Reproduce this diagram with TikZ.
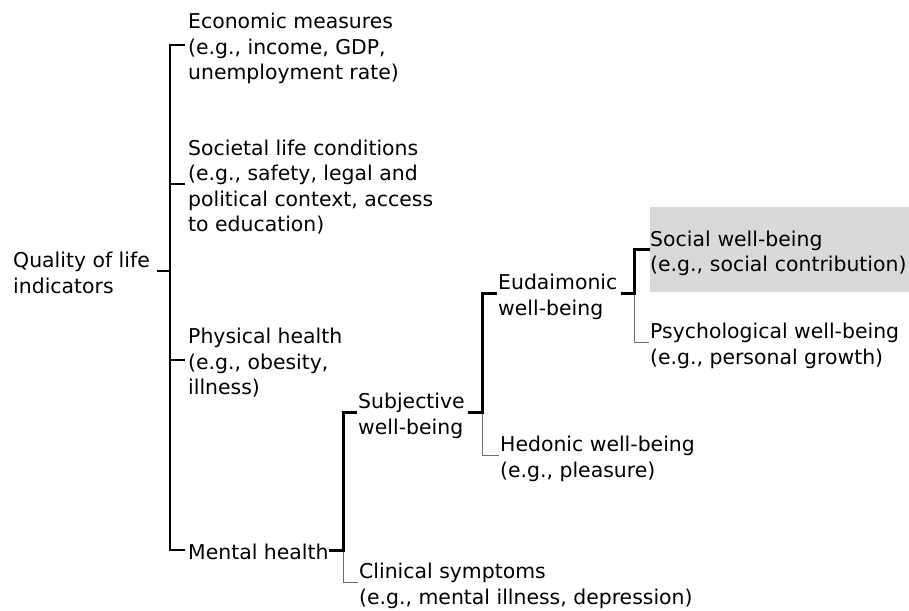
\documentclass[tikz,border=0pt]{standalone}
\usepackage{fontspec}
\setmainfont{DejaVu Sans}
\definecolor{boxgray}{HTML}{D9D9D9}
\definecolor{linegray}{HTML}{6E6E6E}
\newcommand\fst{\rule{0pt}{23.5pt}}
\newcommand\lst{\rule[-5pt]{0pt}{5pt}}
\begin{document}
\begin{tikzpicture}[x=1pt,y=-1pt,
  lbl/.style={anchor=west,inner sep=0pt,align=left,font=\fontsize{20.4}{25.5}\selectfont},
  mainln/.style={line width=1.2pt,black},
  thickln/.style={line width=3pt,black,line join=miter},
  greyln/.style={line width=1pt,linegray},
]
\useasboundingbox (0,0) rectangle (909,610);

% nodes
\node[lbl] (qol)   at (13,271)  {\fst Quality of life\\indicators\lst};
\node[lbl] (econ)  at (188,45)  {\fst Economic measures\\(e.g., income, GDP,\\unemployment rate)\lst};
\node[lbl] (soc)   at (188,184) {\fst Societal life conditions\\(e.g., safety, legal and\\political context, access\\to education)\lst};
\node[lbl] (phys)  at (188,360) {\fst Physical health\\(e.g., obesity,\\illness)\lst};
\node[lbl] (ment)  at (188,550) {\fst Mental health\lst};
\node[lbl] (subj)  at (358,412) {\fst Subjective\\well-being\lst};
\node[lbl] (clin)  at (359,582) {\fst Clinical symptoms\\(e.g., mental illness, depression)\lst};
\node[lbl] (eud)   at (498,293) {\fst Eudaimonic\\well-being\lst};
\node[lbl] (hed)   at (500,455) {\fst Hedonic well-being\\(e.g., pleasure)\lst};
\node[lbl, text width=259pt, minimum height=85pt, fill=boxgray] (social) at (650,249.5) {\fst Social well-being\\(e.g., social contribution)\lst};
\node[lbl] (psych) at (650,342) {\fst Psychological well-being\\(e.g., personal growth)\lst};

% junction coordinates
\coordinate (sp) at (170,271);
\coordinate (mj) at (343,550);
\coordinate (sj) at (482,412);
\coordinate (ej) at (634,293);

% main tree
\draw[mainln] ([xshift=7pt]qol.east) -- (sp);
\draw[mainln] ([xshift=-3pt]econ.west) -| (sp) |- ([xshift=-3pt]ment.west);
\draw[mainln] (sp |- soc.west) -- ([xshift=-3pt]soc.west);
\draw[mainln] (sp |- phys.west) -- ([xshift=-3pt]phys.west);

% mental health
\draw[greyln] (mj) |- ([xshift=-1pt]clin.west);
\draw[thickln] (ment.east) -- (mj) |- ([xshift=-1pt]subj.west);

% subjective well-being
\draw[greyln] (sj) |- ([xshift=-1pt]hed.west);
\draw[thickln] ([xshift=3pt]subj.east) -- (sj) |- ([xshift=-1pt]eud.west);

% eudaimonic well-being
\draw[greyln] (ej) |- ([xshift=-1pt]psych.west);
\draw[thickln] ([xshift=3pt]eud.east) -- (ej) |- (social.west);
\end{tikzpicture}
\end{document}
